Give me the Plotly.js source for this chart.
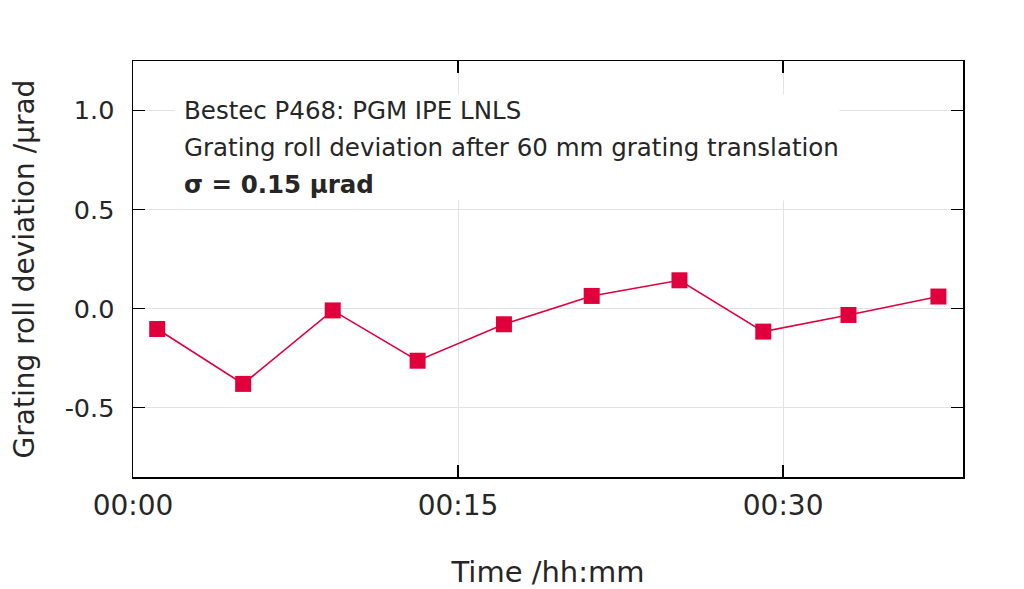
<!DOCTYPE html>
<html>
<head>
<meta charset="utf-8">
<script src="https://cdn.plot.ly/plotly-3.0.1.min.js"></script>
<style>html,body{margin:0;padding:0;background:#fff;}#chart{width:1024px;height:589px;}</style>
</head>
<body>
<div id="chart"></div>
<script>
// Data
var times = [
  "2024-01-01 00:01:07", "2024-01-01 00:05:05", "2024-01-01 00:09:13",
  "2024-01-01 00:13:08", "2024-01-01 00:17:07", "2024-01-01 00:21:10",
  "2024-01-01 00:25:13", "2024-01-01 00:29:05", "2024-01-01 00:33:01",
  "2024-01-01 00:37:10"
];
var rollDeviation = [-0.103, -0.380, -0.009, -0.263, -0.079, 0.064, 0.143, -0.116, -0.032, 0.061];
var xRange = ["2024-01-01 00:00:00", "2024-01-01 00:38:18"];
var yRange = [-0.85, 1.25];
var yTicks = [-0.5, 0.0, 0.5, 1.0];
var yTickLabels = ["-0.5", "0.0", "0.5", "1.0"];
var infoLines = [
  "Bestec P468: PGM IPE LNLS",
  "Grating roll deviation after 60 mm grating translation",
  "<b>σ = 0.15 µrad</b>"
];
var xTitle = "Time /hh:mm";
var yTitle = "Grating roll deviation /µrad";

var red = "#e0003c";
var font = "DejaVu Sans, Arial, sans-serif";
var textColor = "#262626";

var trace = {
  x: times,
  y: rollDeviation,
  type: "scatter",
  mode: "lines+markers",
  line: {color: red, width: 1.6},
  marker: {symbol: "square", size: 16, color: red},
  hoverinfo: "x+y"
};

var linePos = [0.880, 0.791, 0.704];
var annotations = [{
  xref: "paper", yref: "paper", x: 0.4506, y: 0.792,
  xanchor: "center", yanchor: "middle",
  text: "&nbsp;", showarrow: false,
  width: 664, height: 105, bgcolor: "#ffffff", borderpad: 0
}];
infoLines.forEach(function (t, i) {
  annotations.push({
    xref: "paper", yref: "paper", x: 0.059, y: linePos[i],
    xanchor: "left", yanchor: "middle", align: "left",
    text: t, showarrow: false,
    font: {family: font, size: 24.5, color: textColor}
  });
});

var layout = {
  width: 1024, height: 589,
  margin: {l: 133, r: 61, t: 61, b: 112},
  paper_bgcolor: "#ffffff", plot_bgcolor: "#ffffff",
  showlegend: false,
  font: {family: font, color: textColor},
  xaxis: {
    type: "date",
    range: xRange,
    tick0: "2024-01-01 00:00:00",
    dtick: 900000,
    tickformat: "%H:%M",
    ticks: "inside", ticklen: 12, tickwidth: 1.5, tickcolor: "#000",
    showline: true, linecolor: "#000", linewidth: 1.5, mirror: "ticks",
    showgrid: true, gridcolor: "#e3e3e3", gridwidth: 1,
    zeroline: false,
    tickfont: {family: font, size: 28, color: textColor},
    ticklabelstandoff: 3,
    title: {text: xTitle, font: {family: font, size: 29, color: textColor}, standoff: 42}
  },
  yaxis: {
    range: yRange,
    tickvals: yTicks, ticktext: yTickLabels,
    ticks: "inside", ticklen: 12, tickwidth: 1.5, tickcolor: "#000",
    showline: true, linecolor: "#000", linewidth: 1.5, mirror: "ticks",
    showgrid: true, gridcolor: "#e3e3e3", gridwidth: 1,
    zeroline: false,
    tickfont: {family: font, size: 25.5, color: textColor},
    ticklabelstandoff: 12,
    title: {text: yTitle, font: {family: font, size: 28, color: textColor}, standoff: 22}
  },
  annotations: annotations
};

Plotly.newPlot("chart", [trace], layout, {displayModeBar: false, staticPlot: true});
</script>
</body>
</html>
